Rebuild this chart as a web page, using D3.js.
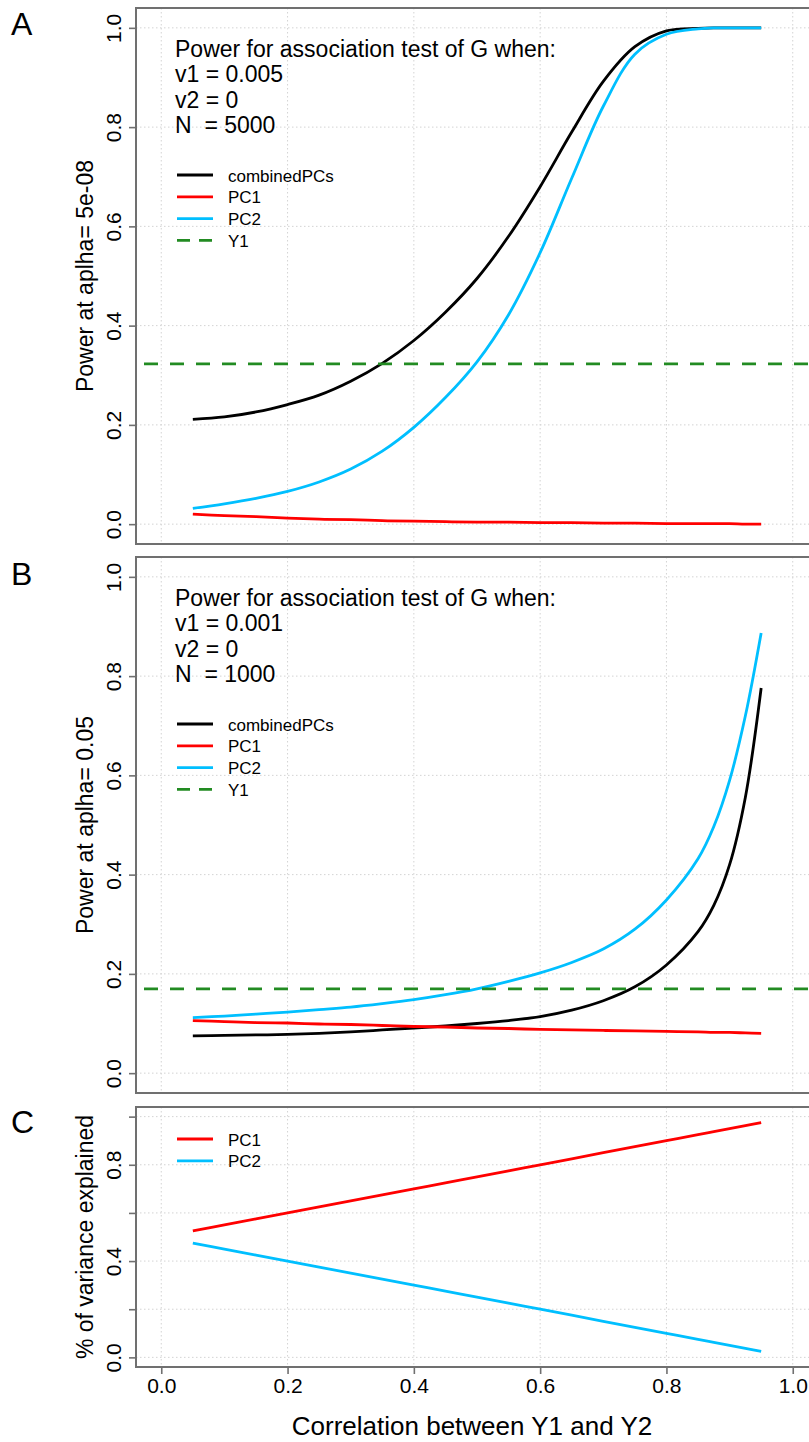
<!DOCTYPE html>
<html>
<head>
<meta charset="utf-8">
<script src="https://cdn.jsdelivr.net/npm/d3@7"></script>
<style>
  html, body { margin: 0; padding: 0; background: #ffffff; }
  svg { display: block; font-family: "Liberation Sans", Arial, Helvetica, sans-serif; }
  text { white-space: pre; }
</style>
</head>
<body>
<svg id="chart" width="809" height="1442"></svg>
<script>
// ---------------- data ----------------
const xs = [0.05,0.10,0.15,0.20,0.25,0.30,0.35,0.40,0.45,0.50,0.55,0.60,0.65,0.70,0.75,0.80,0.85,0.875,0.90,0.925,0.95];

// Panel A (alpha = 5e-08)
const combinedA = [0.211,0.216,0.226,0.241,0.260,0.288,0.324,0.370,0.427,0.495,0.580,0.680,0.790,0.892,0.962,0.994,0.999,1.0,1.0,1.0,1.0];
const pc1A      = [0.020,0.017,0.015,0.012,0.010,0.009,0.007,0.006,0.005,0.004,0.004,0.003,0.003,0.002,0.002,0.001,0.001,0.001,0.001,0.000,0.000];
const pc2A      = [0.032,0.041,0.052,0.066,0.085,0.111,0.147,0.195,0.255,0.327,0.422,0.547,0.697,0.842,0.947,0.987,0.998,1.0,1.0,1.0,1.0];
const y1A = 0.323;
const noteA = ["Power for association test of G when:", "v1 = 0.005", "v2 = 0", "N  = 5000"];

// Panel B (alpha = 0.05)
const combinedB = [0.075,0.076,0.077,0.078,0.080,0.083,0.087,0.091,0.095,0.100,0.106,0.114,0.127,0.146,0.174,0.218,0.285,0.338,0.420,0.556,0.776];
const pc1B      = [0.106,0.104,0.102,0.101,0.099,0.098,0.096,0.094,0.093,0.091,0.090,0.088,0.087,0.086,0.085,0.084,0.083,0.082,0.082,0.081,0.080];
const pc2B      = [0.112,0.115,0.119,0.123,0.128,0.133,0.140,0.148,0.158,0.170,0.185,0.202,0.223,0.250,0.290,0.349,0.432,0.497,0.590,0.720,0.887];
const y1B = 0.170;
const noteB = ["Power for association test of G when:", "v1 = 0.001", "v2 = 0", "N  = 1000"];

// Panel C (% of variance explained)
const pc1C = [0.525,0.550,0.575,0.600,0.625,0.650,0.675,0.700,0.725,0.750,0.775,0.800,0.825,0.850,0.875,0.900,0.925,0.9375,0.950,0.9625,0.975];
const pc2C = [0.475,0.450,0.425,0.400,0.375,0.350,0.325,0.300,0.275,0.250,0.225,0.200,0.175,0.150,0.125,0.100,0.075,0.0625,0.050,0.0375,0.025];

const ticks = [0, 0.2, 0.4, 0.6, 0.8, 1.0];
const tickLabelsC = [0, 0.4, 0.8];
const legendPower = ["combinedPCs", "PC1", "PC2", "Y1"];
const legendVar = ["PC1", "PC2"];
const xTitle = "Correlation between Y1 and Y2";
const yTitles = ["Power at aplha= 5e-08", "Power at aplha= 0.05", "% of variance explained"];
const panelLetters = ["A", "B", "C"];

// ---------------- styles ----------------
const COL = { combinedPCs: "#000000", PC1: "#FF0000", PC2: "#00BFFF", Y1: "#228B22" };
const LW = 2.8;
const svg = d3.select("#chart");
svg.append("rect").attr("width", 809).attr("height", 1442).attr("fill", "#fff");

const boxLeft = 136, boxRight = 818;
const x = d3.scaleLinear().domain([-0.04, 1.04]).range([boxLeft, boxRight]);
const fmt = d3.format(".1f");

const panels = [
  { top: 8,    bottom: 544,  series: [["combinedPCs", combinedA], ["PC1", pc1A], ["PC2", pc2A]], y1: y1A, note: noteA, legend: legendPower, legendOff: 167, labels: ticks },
  { top: 557,  bottom: 1093, series: [["combinedPCs", combinedB], ["PC1", pc1B], ["PC2", pc2B]], y1: y1B, note: noteB, legend: legendPower, legendOff: 167, labels: ticks },
  { top: 1107, bottom: 1367, series: [["PC1", pc1C], ["PC2", pc2C]], y1: null, note: null, legend: legendVar, legendOff: 32, labels: tickLabelsC }
];

panels.forEach((p, i) => {
  const y = d3.scaleLinear().domain([-0.04, 1.04]).range([p.bottom, p.top]);
  const g = svg.append("g");
  const clipId = "clip" + i;
  svg.append("clipPath").attr("id", clipId).append("rect")
    .attr("x", boxLeft).attr("y", p.top).attr("width", boxRight - boxLeft).attr("height", p.bottom - p.top);

  // grid
  const grid = g.append("g").attr("clip-path", `url(#${clipId})`);
  grid.selectAll("line.gx").data(ticks).join("line")
    .attr("x1", d => x(d)).attr("x2", d => x(d)).attr("y1", p.top).attr("y2", p.bottom)
    .attr("stroke", "#d3d3d3").attr("stroke-width", 1).attr("stroke-dasharray", "1.5,2.5");
  grid.selectAll("line.gy").data(ticks).join("line")
    .attr("y1", d => y(d)).attr("y2", d => y(d)).attr("x1", boxLeft).attr("x2", boxRight)
    .attr("stroke", "#d3d3d3").attr("stroke-width", 1).attr("stroke-dasharray", "1.5,2.5");

  // lines
  const plot = g.append("g").attr("clip-path", `url(#${clipId})`);
  const line = d3.line().x((d, k) => x(xs[k])).y(d => y(d)).curve(d3.curveCatmullRom.alpha(0.5));
  p.series.forEach(([name, vals]) => {
    plot.append("path").datum(vals).attr("d", line)
      .attr("fill", "none").attr("stroke", COL[name]).attr("stroke-width", LW)
      .attr("stroke-linejoin", "round");
  });
  if (p.y1 !== null) {
    plot.append("line").attr("x1", boxLeft).attr("x2", boxRight)
      .attr("y1", y(p.y1)).attr("y2", y(p.y1))
      .attr("stroke", COL.Y1).attr("stroke-width", LW).attr("stroke-dasharray", "14,12")
      .attr("stroke-dashoffset", -8);
  }

  // box
  g.append("rect").attr("x", boxLeft).attr("y", p.top).attr("width", boxRight - boxLeft).attr("height", p.bottom - p.top)
    .attr("fill", "none").attr("stroke", "#707070").attr("stroke-width", 2);

  // y axis
  const yAxis = d3.axisLeft(y).tickValues(ticks).tickSize(7).tickSizeOuter(0)
    .tickFormat(d => p.labels.includes(d) ? fmt(d) : "");
  const ya = g.append("g").attr("transform", `translate(${boxLeft},0)`).call(yAxis);
  ya.select(".domain").remove();
  ya.selectAll(".tick line").attr("stroke", "#707070").attr("stroke-width", 1.6);
  ya.selectAll(".tick text")
    .attr("transform", "rotate(-90)").attr("x", 0).attr("y", -15).attr("dy", 0)
    .attr("text-anchor", "middle").attr("fill", "#000")
    .style("font-size", "21px").style("font-family", "'Liberation Sans', Arial, sans-serif");

  // y title
  g.append("text").attr("transform", `translate(93,${(p.top + p.bottom) / 2}) rotate(-90)`)
    .attr("text-anchor", "middle").style("font-size", "23px").attr("fill", "#000").text(yTitles[i]);

  // panel letter
  const letterBase = [35, 585, 1133][i];
  g.append("text").attr("x", 11).attr("y", letterBase).style("font-size", "32px").attr("fill", "#000").text(panelLetters[i]);

  // annotation
  if (p.note) {
    g.selectAll("text.note").data(p.note).join("text").attr("class", "note")
      .attr("x", 175).attr("y", (d, k) => p.top + 49 + k * 25.3)
      .style("font-size", "23px").attr("fill", "#000").text(d => d);
  }

  // legend
  const lg = g.append("g");
  p.legend.forEach((name, k) => {
    const ly = p.top + p.legendOff + k * 21.8;
    lg.append("line").attr("x1", 177).attr("x2", 213).attr("y1", ly).attr("y2", ly)
      .attr("stroke", COL[name]).attr("stroke-width", LW)
      .attr("stroke-dasharray", name === "Y1" ? "13,9" : null);
    lg.append("text").attr("x", 228).attr("y", ly + 6.5).style("font-size", "17px").attr("fill", "#000").text(name);
  });

  // x axis only on bottom panel
  if (i === 2) {
    const xAxis = d3.axisBottom(x).tickValues(ticks).tickSize(7).tickSizeOuter(0).tickFormat(fmt);
    const xa = g.append("g").attr("transform", `translate(0,${p.bottom})`).call(xAxis);
    xa.select(".domain").remove();
    xa.selectAll(".tick line").attr("stroke", "#707070").attr("stroke-width", 1.6);
    xa.selectAll(".tick text").attr("y", 26).attr("dy", 0).attr("fill", "#000")
      .style("font-size", "21px").style("font-family", "'Liberation Sans', Arial, sans-serif");
    g.append("text").attr("x", 472).attr("y", 1435).attr("text-anchor", "middle")
      .style("font-size", "26px").attr("fill", "#000").text(xTitle);
  }
});
</script>
</body>
</html>
